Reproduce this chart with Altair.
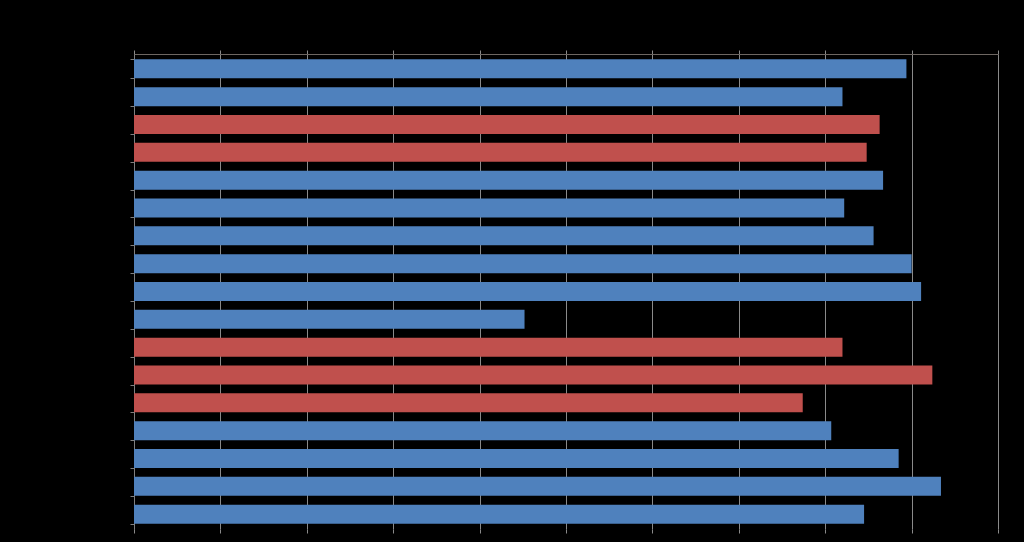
import altair as alt
import pandas as pd

categories = [f"C{i:02d}" for i in range(1, 18)]
values = [8.94, 8.20, 8.63, 8.48, 8.67, 8.22, 8.56, 9.00, 9.11, 4.52,
          8.20, 9.24, 7.74, 8.07, 8.85, 9.34, 8.45]
groups = ["A", "A", "B", "B", "A", "A", "A", "A", "A", "A",
          "B", "B", "B", "A", "A", "A", "A"]
tick_values = [0, 1, 2, 3, 4, 5, 6, 7, 8, 9, 10]

df = pd.DataFrame({"category": categories, "value": values, "group": groups})

yenc = alt.Y("category:N", sort=categories, title=None,
             scale=alt.Scale(paddingInner=0.317, paddingOuter=0.19),
             axis=alt.Axis(labels=False, tickBand="extent", tickSize=4,
                           tickColor="#7f7f7f", domainColor="#7f7f7f",
                           grid=False, title=None))

bars = alt.Chart(df).mark_bar(stroke=None).encode(
    y=yenc,
    x=alt.X("value:Q", title=None,
            scale=alt.Scale(domain=[0, 10], nice=False),
            axis=alt.Axis(orient="top", labels=False, values=tick_values,
                          labelOverlap=False,
                          tickSize=4, tickColor="#8a8a8a",
                          domainColor="#6e6762", gridColor="#8a8a8a",
                          gridWidth=1, title=None)),
    color=alt.Color("group:N", legend=None,
                    scale=alt.Scale(domain=["A", "B"], range=["#4F81BD", "#C0504D"])),
)

bottom = alt.Chart(df).mark_bar(opacity=0).encode(
    y=alt.Y("category:N", sort=categories),
    x=alt.X("value:Q", title=None,
            axis=alt.Axis(orient="bottom", labels=False, values=tick_values,
                          labelOverlap=False, domain=False, grid=False,
                          tickSize=4, tickColor="#8a8a8a", title=None)),
)

chart = alt.layer(bars, bottom).resolve_axis(x="independent").properties(
    width=864, height=475,
    autosize=alt.AutoSizeParams(type="none"),
    padding={"left": 134, "top": 54, "right": 26, "bottom": 13},
    background="#000000",
).configure_view(stroke=None)

chart.save("out.html", embed_options={"renderer": "svg", "actions": False})
